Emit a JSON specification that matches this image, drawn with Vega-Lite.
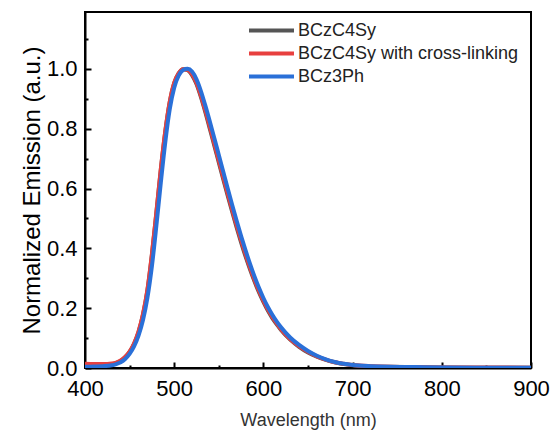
{
"$schema":"https://vega.github.io/schema/vega-lite/v6.json",
"width":446,"height":356,"autosize":"none",
"padding":{"left":85,"top":12,"right":24,"bottom":64},
"background":"white",
"config":{"font":"Liberation Sans","view":{"stroke":"black","strokeWidth":2},
"axis":{"domainColor":"black","domainWidth":2,"tickColor":"black","tickWidth":2,"labelColor":"black","grid":false,"labelFont":"Liberation Sans","titleFont":"Liberation Sans","titleFontWeight":"normal"}},
"datasets":{
"spec":[
{"s":"BCzC4Sy","w":400,"v":0.012},{"s":"BCzC4Sy","w":410,"v":0.011},{"s":"BCzC4Sy","w":420,"v":0.011},{"s":"BCzC4Sy","w":430,"v":0.013},{"s":"BCzC4Sy","w":435,"v":0.017},{"s":"BCzC4Sy","w":440,"v":0.024},{"s":"BCzC4Sy","w":445,"v":0.036},{"s":"BCzC4Sy","w":450,"v":0.054},{"s":"BCzC4Sy","w":455,"v":0.081},{"s":"BCzC4Sy","w":460,"v":0.12},{"s":"BCzC4Sy","w":465,"v":0.178},{"s":"BCzC4Sy","w":470,"v":0.26},{"s":"BCzC4Sy","w":475,"v":0.378},{"s":"BCzC4Sy","w":480,"v":0.518},{"s":"BCzC4Sy","w":485,"v":0.663},{"s":"BCzC4Sy","w":490,"v":0.79},{"s":"BCzC4Sy","w":495,"v":0.889},{"s":"BCzC4Sy","w":500,"v":0.952},{"s":"BCzC4Sy","w":505,"v":0.985},{"s":"BCzC4Sy","w":510,"v":0.999},{"s":"BCzC4Sy","w":515,"v":0.996},{"s":"BCzC4Sy","w":520,"v":0.979},{"s":"BCzC4Sy","w":525,"v":0.949},{"s":"BCzC4Sy","w":530,"v":0.905},{"s":"BCzC4Sy","w":535,"v":0.854},{"s":"BCzC4Sy","w":540,"v":0.799},{"s":"BCzC4Sy","w":545,"v":0.743},{"s":"BCzC4Sy","w":550,"v":0.687},{"s":"BCzC4Sy","w":555,"v":0.631},{"s":"BCzC4Sy","w":560,"v":0.576},{"s":"BCzC4Sy","w":565,"v":0.522},{"s":"BCzC4Sy","w":570,"v":0.47},{"s":"BCzC4Sy","w":575,"v":0.42},{"s":"BCzC4Sy","w":580,"v":0.373},{"s":"BCzC4Sy","w":585,"v":0.33},{"s":"BCzC4Sy","w":590,"v":0.29},{"s":"BCzC4Sy","w":595,"v":0.253},{"s":"BCzC4Sy","w":600,"v":0.221},{"s":"BCzC4Sy","w":605,"v":0.192},{"s":"BCzC4Sy","w":610,"v":0.167},{"s":"BCzC4Sy","w":615,"v":0.146},{"s":"BCzC4Sy","w":620,"v":0.126},{"s":"BCzC4Sy","w":630,"v":0.095},{"s":"BCzC4Sy","w":640,"v":0.071},{"s":"BCzC4Sy","w":650,"v":0.052},{"s":"BCzC4Sy","w":660,"v":0.038},{"s":"BCzC4Sy","w":670,"v":0.027},{"s":"BCzC4Sy","w":680,"v":0.019},{"s":"BCzC4Sy","w":690,"v":0.013},{"s":"BCzC4Sy","w":700,"v":0.009},{"s":"BCzC4Sy","w":720,"v":0.005},{"s":"BCzC4Sy","w":740,"v":0.004},{"s":"BCzC4Sy","w":770,"v":0.003},{"s":"BCzC4Sy","w":800,"v":0.002},{"s":"BCzC4Sy","w":850,"v":0.001},{"s":"BCzC4Sy","w":900,"v":0.001},
{"s":"BCzC4Sy with cross-linking","w":400,"v":0.014},{"s":"BCzC4Sy with cross-linking","w":410,"v":0.013},{"s":"BCzC4Sy with cross-linking","w":420,"v":0.013},{"s":"BCzC4Sy with cross-linking","w":430,"v":0.015},{"s":"BCzC4Sy with cross-linking","w":435,"v":0.018},{"s":"BCzC4Sy with cross-linking","w":440,"v":0.025},{"s":"BCzC4Sy with cross-linking","w":445,"v":0.037},{"s":"BCzC4Sy with cross-linking","w":450,"v":0.055},{"s":"BCzC4Sy with cross-linking","w":455,"v":0.082},{"s":"BCzC4Sy with cross-linking","w":460,"v":0.122},{"s":"BCzC4Sy with cross-linking","w":465,"v":0.18},{"s":"BCzC4Sy with cross-linking","w":470,"v":0.262},{"s":"BCzC4Sy with cross-linking","w":475,"v":0.38},{"s":"BCzC4Sy with cross-linking","w":480,"v":0.52},{"s":"BCzC4Sy with cross-linking","w":485,"v":0.665},{"s":"BCzC4Sy with cross-linking","w":490,"v":0.792},{"s":"BCzC4Sy with cross-linking","w":495,"v":0.89},{"s":"BCzC4Sy with cross-linking","w":500,"v":0.953},{"s":"BCzC4Sy with cross-linking","w":505,"v":0.985},{"s":"BCzC4Sy with cross-linking","w":510,"v":0.999},{"s":"BCzC4Sy with cross-linking","w":515,"v":0.997},{"s":"BCzC4Sy with cross-linking","w":520,"v":0.982},{"s":"BCzC4Sy with cross-linking","w":525,"v":0.953},{"s":"BCzC4Sy with cross-linking","w":530,"v":0.91},{"s":"BCzC4Sy with cross-linking","w":535,"v":0.86},{"s":"BCzC4Sy with cross-linking","w":540,"v":0.806},{"s":"BCzC4Sy with cross-linking","w":545,"v":0.75},{"s":"BCzC4Sy with cross-linking","w":550,"v":0.694},{"s":"BCzC4Sy with cross-linking","w":555,"v":0.638},{"s":"BCzC4Sy with cross-linking","w":560,"v":0.583},{"s":"BCzC4Sy with cross-linking","w":565,"v":0.529},{"s":"BCzC4Sy with cross-linking","w":570,"v":0.477},{"s":"BCzC4Sy with cross-linking","w":575,"v":0.427},{"s":"BCzC4Sy with cross-linking","w":580,"v":0.38},{"s":"BCzC4Sy with cross-linking","w":585,"v":0.336},{"s":"BCzC4Sy with cross-linking","w":590,"v":0.295},{"s":"BCzC4Sy with cross-linking","w":595,"v":0.258},{"s":"BCzC4Sy with cross-linking","w":600,"v":0.225},{"s":"BCzC4Sy with cross-linking","w":605,"v":0.196},{"s":"BCzC4Sy with cross-linking","w":610,"v":0.171},{"s":"BCzC4Sy with cross-linking","w":615,"v":0.149},{"s":"BCzC4Sy with cross-linking","w":620,"v":0.129},{"s":"BCzC4Sy with cross-linking","w":630,"v":0.097},{"s":"BCzC4Sy with cross-linking","w":640,"v":0.073},{"s":"BCzC4Sy with cross-linking","w":650,"v":0.054},{"s":"BCzC4Sy with cross-linking","w":660,"v":0.039},{"s":"BCzC4Sy with cross-linking","w":670,"v":0.028},{"s":"BCzC4Sy with cross-linking","w":680,"v":0.019},{"s":"BCzC4Sy with cross-linking","w":690,"v":0.014},{"s":"BCzC4Sy with cross-linking","w":700,"v":0.01},{"s":"BCzC4Sy with cross-linking","w":720,"v":0.006},{"s":"BCzC4Sy with cross-linking","w":740,"v":0.004},{"s":"BCzC4Sy with cross-linking","w":770,"v":0.003},{"s":"BCzC4Sy with cross-linking","w":800,"v":0.002},{"s":"BCzC4Sy with cross-linking","w":850,"v":0.002},{"s":"BCzC4Sy with cross-linking","w":900,"v":0.001},
{"s":"BCz3Ph","w":400,"v":0.004},{"s":"BCz3Ph","w":410,"v":0.005},{"s":"BCz3Ph","w":420,"v":0.006},{"s":"BCz3Ph","w":430,"v":0.009},{"s":"BCz3Ph","w":435,"v":0.013},{"s":"BCz3Ph","w":440,"v":0.019},{"s":"BCz3Ph","w":445,"v":0.03},{"s":"BCz3Ph","w":450,"v":0.047},{"s":"BCz3Ph","w":455,"v":0.072},{"s":"BCz3Ph","w":460,"v":0.108},{"s":"BCz3Ph","w":465,"v":0.16},{"s":"BCz3Ph","w":470,"v":0.235},{"s":"BCz3Ph","w":475,"v":0.34},{"s":"BCz3Ph","w":480,"v":0.475},{"s":"BCz3Ph","w":485,"v":0.62},{"s":"BCz3Ph","w":490,"v":0.755},{"s":"BCz3Ph","w":495,"v":0.865},{"s":"BCz3Ph","w":500,"v":0.937},{"s":"BCz3Ph","w":505,"v":0.977},{"s":"BCz3Ph","w":510,"v":0.996},{"s":"BCz3Ph","w":515,"v":1.0},{"s":"BCz3Ph","w":520,"v":0.991},{"s":"BCz3Ph","w":525,"v":0.965},{"s":"BCz3Ph","w":530,"v":0.925},{"s":"BCz3Ph","w":535,"v":0.876},{"s":"BCz3Ph","w":540,"v":0.823},{"s":"BCz3Ph","w":545,"v":0.768},{"s":"BCz3Ph","w":550,"v":0.712},{"s":"BCz3Ph","w":555,"v":0.656},{"s":"BCz3Ph","w":560,"v":0.6},{"s":"BCz3Ph","w":565,"v":0.545},{"s":"BCz3Ph","w":570,"v":0.492},{"s":"BCz3Ph","w":575,"v":0.441},{"s":"BCz3Ph","w":580,"v":0.393},{"s":"BCz3Ph","w":585,"v":0.348},{"s":"BCz3Ph","w":590,"v":0.306},{"s":"BCz3Ph","w":595,"v":0.268},{"s":"BCz3Ph","w":600,"v":0.234},{"s":"BCz3Ph","w":605,"v":0.204},{"s":"BCz3Ph","w":610,"v":0.178},{"s":"BCz3Ph","w":615,"v":0.155},{"s":"BCz3Ph","w":620,"v":0.135},{"s":"BCz3Ph","w":630,"v":0.102},{"s":"BCz3Ph","w":640,"v":0.077},{"s":"BCz3Ph","w":650,"v":0.057},{"s":"BCz3Ph","w":660,"v":0.041},{"s":"BCz3Ph","w":670,"v":0.029},{"s":"BCz3Ph","w":680,"v":0.02},{"s":"BCz3Ph","w":690,"v":0.014},{"s":"BCz3Ph","w":700,"v":0.01},{"s":"BCz3Ph","w":720,"v":0.006},{"s":"BCz3Ph","w":740,"v":0.004},{"s":"BCz3Ph","w":770,"v":0.003},{"s":"BCz3Ph","w":800,"v":0.002},{"s":"BCz3Ph","w":850,"v":0.001},{"s":"BCz3Ph","w":900,"v":0.001}
]},
"data":{"name":"spec"},
"layer":[
{"mark":{"type":"line","interpolate":"monotone","clip":true},
"encoding":{
"x":{"field":"w","type":"quantitative","scale":{"domain":[400,900],"nice":false},
"axis":{"values":[400,500,600,700,800,900],"tickSize":-6,"labelPadding":16,"labelFontSize":22,"title":"Wavelength (nm)","titleFontSize":18,"titleColor":"#333333","titlePadding":12,"labelFlush":false}},
"y":{"field":"v","type":"quantitative","scale":{"domain":[0,1.19],"nice":false,"zero":true},
"axis":{"values":[0,0.2,0.4,0.6,0.8,1.0],"format":".1f","tickSize":-6,"labelPadding":14,"labelFontSize":22,"title":"Normalized Emission (a.u.)","titleFontSize":24,"titleColor":"black","titlePadding":2}},
"color":{"field":"s","type":"nominal","sort":["BCzC4Sy","BCzC4Sy with cross-linking","BCz3Ph"],
"scale":{"domain":["BCzC4Sy","BCzC4Sy with cross-linking","BCz3Ph"],"range":["#555555","#e8403f","#2a70d8"]},
"legend":{"orient":"none","legendX":173,"legendY":5,"title":null,"symbolType":"M-2,0H2","symbolStrokeWidth":4,"symbolSize":506,"symbolFillColor":"transparent","labelFontSize":18,"labelColor":"#222222","labelLimit":0,"padding":0,"rowPadding":0,"labelOffset":13}},
"strokeWidth":{"field":"s","type":"nominal","scale":{"domain":["BCzC4Sy","BCzC4Sy with cross-linking","BCz3Ph"],"range":[4,4,5.5]},"legend":null}
}},
{"mark":{"type":"point","opacity":0},
"encoding":{
"x":{"field":"w","type":"quantitative","scale":{"domain":[400,900],"nice":false},"axis":{"orient":"bottom","values":[450,550,650,750,850],"tickSize":-3,"labels":false,"domain":false,"title":null}},
"y":{"field":"v","type":"quantitative","scale":{"domain":[0,1.19],"nice":false},"axis":{"orient":"left","values":[0.1,0.3,0.5,0.7,0.9,1.1],"tickSize":-3,"labels":false,"domain":false,"title":null}}
}}
],
"resolve":{"axis":{"x":"independent","y":"independent"}}
}
